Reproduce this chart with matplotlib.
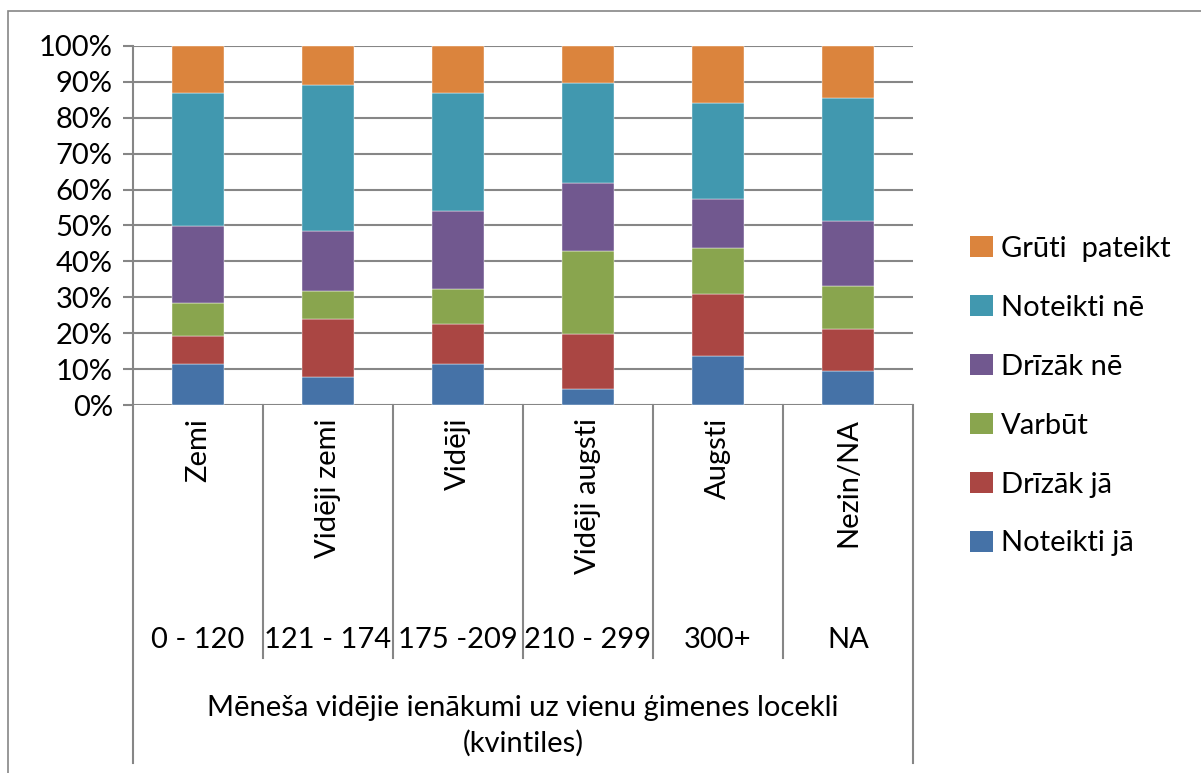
#!/usr/bin/env python3
import numpy as np
import matplotlib
matplotlib.use("Agg")
import matplotlib.pyplot as plt
from matplotlib.patches import Rectangle, Patch

plt.rcParams['font.family'] = ['Lato', 'DejaVu Sans']

# data (percent shares)
categories = ["Zemi", "Vidēji zemi", "Vidēji", "Vidēji augsti", "Augsti", "Nezin/NA"]
ranges = ["0 - 120", "121 - 174", "175 -209", "210 - 299", "300+", "NA"]
series_names = ["Noteikti jā", "Drīzāk jā", "Varbūt", "Drīzāk nē", "Noteikti nē", "Grūti  pateikt"]
noteikti_ja = [11.5, 7.9, 11.5, 4.5, 13.6, 9.5]
drizak_ja = [7.6, 16.1, 11.2, 15.4, 17.4, 11.8]
varbut = [9.2, 7.8, 9.7, 23.0, 12.6, 11.8]
drizak_ne = [21.6, 16.6, 21.6, 18.8, 13.9, 18.1]
noteikti_ne = [36.9, 40.6, 32.8, 27.9, 26.5, 34.2]
gruti_pateikt = [13.2, 11.0, 13.2, 10.4, 16.0, 14.6]
x_title = "Mēneša vidējie ienākumi uz vienu ģimenes locekli\n(kvintiles)"

colors = ["#4572A7", "#AA4643", "#89A54E", "#71588F", "#4198AF", "#DB843D"]
grid_col = "#868686"
FS = 21

W, H = 1201, 773
fig = plt.figure(figsize=(W / 100, H / 100), dpi=100)

# outer chart border (only top/left visible in the crop)
fig.patches.append(Rectangle((8 / W, -0.2), 2, 1.2 - 11 / H, transform=fig.transFigure,
                             fill=False, edgecolor=grid_col, linewidth=1.2))

ax = fig.add_axes([133 / W, 1 - 405 / H, 780 / W, 359 / H])

series = [noteikti_ja, drizak_ja, varbut, drizak_ne, noteikti_ne, gruti_pateikt]
x = np.arange(len(categories))
bottom = np.zeros(len(categories))
for vals, col in zip(series, colors):
    v = np.array(vals) / 100.0
    ax.bar(x, v, 0.4, bottom=bottom, color=col, edgecolor="white", linewidth=0.3, zorder=3)
    bottom += v

ax.set_xlim(-0.5, len(categories) - 0.5)
ax.set_ylim(0, 1)
ax.set_yticks(np.arange(0, 1.01, 0.1))
ax.set_yticklabels([f"{int(round(t * 100))}%" for t in np.arange(0, 1.01, 0.1)], fontsize=FS)
ax.tick_params(axis='y', length=7.5, width=1.5, color=grid_col, pad=7)
ax.grid(axis='y', color=grid_col, linewidth=1.5, zorder=0)
ax.set_xticks([])
for s in ["top", "right", "bottom"]:
    ax.spines[s].set_visible(False)
ax.spines["left"].set_color(grid_col)
ax.spines["left"].set_linewidth(1.5)

# multi-level category axis
trans = matplotlib.transforms.blended_transform_factory(ax.transData, ax.transAxes)
y_sep = (405 - 658) / 359
y_out = (405 - 763) / 359
for b in np.arange(-0.5, len(categories), 1.0):
    lo = y_out if b in (-0.5, len(categories) - 0.5) else y_sep
    ax.plot([b, b], [0, lo], transform=trans, color=grid_col, linewidth=1.5, clip_on=False)

for i, (c, r) in enumerate(zip(categories, ranges)):
    ax.text(i, (405 - 418) / 359, c, transform=trans, rotation=90, ha="center", va="top", fontsize=FS)
    ax.text(i, (405 - 640) / 359, r, transform=trans, ha="center", va="center", fontsize=FS)

ax.text(2.5, (405 - 726) / 359, x_title, transform=trans, ha="center", va="center",
        fontsize=FS, linespacing=1.4)

handles = [Patch(facecolor=c, edgecolor="none") for c in colors]
fig.legend(handles[::-1], series_names[::-1], loc="upper left",
           bbox_to_anchor=((969 - 11) / W, 1 - 224 / H), frameon=False, fontsize=FS,
           handlelength=0.8, handleheight=0.72, handletextpad=0.28, labelspacing=1.13,
           borderaxespad=0)

fig.savefig("out.png", dpi=100)
